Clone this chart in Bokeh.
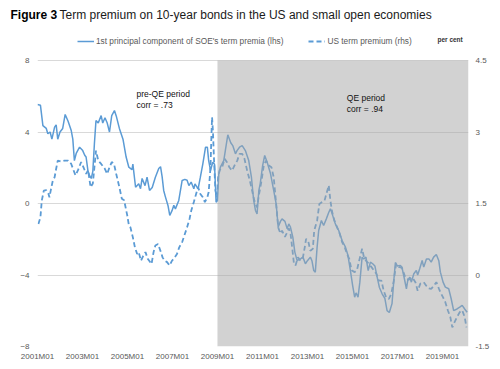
from bokeh.plotting import figure
from bokeh.layouts import column
from bokeh.models import (Range1d, LinearAxis, FixedTicker, BoxAnnotation, Label,
                          Legend, LegendItem, ColumnDataSource)
from bokeh.embed import file_html
from bokeh.resources import INLINE

# ---------------- data (decimal year, value) ----------------
soe_t = [2001.00, 2001.13, 2001.24, 2001.39, 2001.46, 2001.56, 2001.64, 2001.76, 2001.83, 2001.90,
         2002.00, 2002.12, 2002.23, 2002.36, 2002.50, 2002.57, 2002.64, 2002.72, 2002.87, 2003.01,
         2003.10, 2003.16, 2003.24, 2003.31, 2003.39, 2003.46, 2003.53, 2003.60, 2003.70, 2003.83,
         2003.90, 2004.00, 2004.10, 2004.20, 2004.30, 2004.42, 2004.50, 2004.64, 2004.80, 2004.94,
         2005.06, 2005.20, 2005.24, 2005.36, 2005.50, 2005.58, 2005.65, 2005.78, 2005.87, 2005.98,
         2006.10, 2006.24, 2006.39, 2006.47, 2006.54, 2006.61, 2006.68, 2006.80, 2006.88, 2006.98,
         2007.06, 2007.13, 2007.28, 2007.43, 2007.55, 2007.65, 2007.73, 2007.83, 2007.95, 2008.00,
         2008.14, 2008.24, 2008.35, 2008.47, 2008.55, 2008.61, 2008.69, 2008.79, 2008.87, 2008.94,
         2009.00, 2009.06, 2009.13, 2009.28, 2009.35, 2009.46, 2009.59, 2009.68, 2009.80, 2009.87,
         2009.98, 2010.10, 2010.24, 2010.39, 2010.51, 2010.61, 2010.69, 2010.76, 2010.84, 2010.90,
         2011.01, 2011.10, 2011.21, 2011.36, 2011.50, 2011.61, 2011.70, 2011.80, 2011.87, 2012.00,
         2012.10, 2012.17, 2012.24, 2012.35, 2012.44, 2012.54, 2012.69, 2012.80, 2012.91, 2013.00,
         2013.13, 2013.20, 2013.28, 2013.35, 2013.43, 2013.50, 2013.62, 2013.72, 2013.84, 2013.95,
         2014.02, 2014.10, 2014.24, 2014.39, 2014.54, 2014.69, 2014.80, 2014.91, 2015.01, 2015.10,
         2015.16, 2015.25, 2015.33, 2015.43, 2015.50, 2015.60, 2015.70, 2015.80, 2015.90, 2016.00,
         2016.10, 2016.20, 2016.32, 2016.44, 2016.54, 2016.64, 2016.76, 2016.84, 2016.91, 2017.00,
         2017.13, 2017.20, 2017.31, 2017.40, 2017.46, 2017.55, 2017.62, 2017.73, 2017.84, 2017.90,
         2017.99, 2018.10, 2018.17, 2018.29, 2018.40, 2018.50, 2018.61, 2018.73, 2018.84, 2018.91,
         2019.03, 2019.13, 2019.28, 2019.39, 2019.50, 2019.65, 2019.77, 2019.88, 2019.99, 2020.10]
soe_v = [5.54, 5.50, 4.36, 4.20, 3.90, 4.00, 3.60, 4.27, 4.40, 3.60,
         4.00, 4.20, 4.98, 4.60, 4.08, 3.60, 2.40, 2.80, 3.15, 2.96,
         2.70, 2.60, 1.85, 1.57, 1.40, 1.80, 3.36, 4.64, 4.50, 4.92,
         4.50, 4.80, 4.50, 4.00, 4.92, 5.20, 4.90, 4.20, 3.60, 2.60,
         2.03, 1.90, 2.20, 0.91, 1.10, 0.83, 1.40, 1.00, 1.47, 0.73,
         0.90, 1.47, 1.96, 2.06, 1.50, 0.73, 0.40, -0.11, -0.67, -0.40,
         -0.10, -0.30, 0.17, 1.29, 1.35, 1.30, 1.00, 1.20, 0.82, 1.10,
         0.82, 1.47, 2.22, 3.15, 3.15, 2.40, 1.85, 2.31, 2.20, 0.07,
         0.17, 1.66, 2.03, 2.40, 2.96, 3.84, 3.40, 3.24, 2.78, 2.96,
         3.15, 3.24, 2.96, 2.40, 1.47, 0.17, -0.39, -0.58, 0.73, 1.10,
         2.13, 2.69, 2.31, 1.66, 0.73, -0.02, -1.32, -1.00, -0.86, -1.00,
         -1.42, -1.14, -1.30, -1.88, -2.72, -3.19, -3.10, -3.00, -3.37, -3.20,
         -3.00, -3.20, -3.75, -3.84, -2.44, -1.51, -0.95, -1.23, -0.86, -0.49,
         -0.30, -0.58, -1.14, -1.51, -2.07, -2.44, -2.90, -3.75, -4.59, -5.24,
         -5.00, -5.24, -4.40, -3.00, -3.10, -3.00, -3.75, -3.28, -3.37, -3.50,
         -4.12, -4.70, -5.05, -5.30, -5.99, -6.10, -5.60, -4.30, -3.30, -3.50,
         -3.47, -3.56, -4.21, -4.77, -4.30, -4.12, -4.40, -3.93, -3.75, -4.00,
         -3.65, -3.19, -3.56, -3.10, -3.10, -3.28, -3.00, -2.85, -3.20, -3.84,
         -4.40, -4.68, -4.77, -5.33, -5.99, -5.90, -5.80, -5.70, -5.90, -6.08]

us_t = [2001.04, 2001.13, 2001.19, 2001.28, 2001.39, 2001.49, 2001.53, 2001.60, 2001.68, 2001.76,
        2001.83, 2001.90, 2002.05, 2002.20, 2002.36, 2002.50, 2002.60, 2002.69, 2002.80, 2002.94,
        2003.06, 2003.16, 2003.25, 2003.36, 2003.46, 2003.53, 2003.60, 2003.70, 2003.83, 2003.98,
        2004.10, 2004.20, 2004.30, 2004.40, 2004.50, 2004.64, 2004.75, 2004.85, 2004.99, 2005.06,
        2005.13, 2005.24, 2005.33, 2005.43, 2005.50, 2005.60, 2005.70, 2005.80, 2005.90, 2006.07,
        2006.16, 2006.24, 2006.36, 2006.47, 2006.56, 2006.65, 2006.76, 2006.87, 2006.98, 2007.10,
        2007.20, 2007.30, 2007.43, 2007.55, 2007.65, 2007.76, 2007.84, 2007.95, 2008.05, 2008.14,
        2008.24, 2008.35, 2008.44, 2008.55, 2008.61, 2008.69, 2008.73, 2008.76, 2008.80, 2008.84,
        2008.91, 2008.98, 2009.03, 2009.10, 2009.21, 2009.32, 2009.43, 2009.53, 2009.65, 2009.76,
        2009.88, 2009.98, 2010.10, 2010.20, 2010.32, 2010.44, 2010.54, 2010.64, 2010.76, 2010.84,
        2010.96, 2011.06, 2011.16, 2011.27, 2011.40, 2011.50, 2011.61, 2011.70, 2011.80, 2011.87,
        2012.00, 2012.07, 2012.17, 2012.24, 2012.32, 2012.40, 2012.47, 2012.58, 2012.69, 2012.80,
        2012.88, 2012.94, 2013.04, 2013.13, 2013.24, 2013.30, 2013.43, 2013.53, 2013.65, 2013.76,
        2013.84, 2013.95, 2014.02, 2014.10, 2014.20, 2014.32, 2014.44, 2014.54, 2014.66, 2014.76,
        2014.86, 2014.96, 2015.10, 2015.20, 2015.30, 2015.43, 2015.50, 2015.60, 2015.72, 2015.84,
        2015.95, 2016.06, 2016.17, 2016.29, 2016.39, 2016.50, 2016.62, 2016.73, 2016.84, 2016.94,
        2017.06, 2017.20, 2017.35, 2017.50, 2017.66, 2017.80, 2017.90, 2018.02, 2018.17, 2018.29,
        2018.40, 2018.50, 2018.61, 2018.73, 2018.84, 2018.91, 2019.03, 2019.13, 2019.24, 2019.35,
        2019.44, 2019.53, 2019.65, 2019.77, 2019.88, 2019.99, 2020.07]
us_v = [1.07, 1.21, 1.56, 1.77, 1.78, 1.70, 1.63, 1.80, 1.98, 2.05,
        2.23, 2.40, 2.38, 2.40, 2.40, 2.33, 2.20, 2.09, 2.20, 2.37,
        2.24, 2.12, 2.20, 1.84, 1.92, 2.26, 2.61, 2.40, 2.33, 2.24,
        2.12, 2.26, 2.37, 2.33, 2.12, 1.84, 1.60, 1.57, 1.25, 1.05,
        1.00, 0.79, 0.58, 0.44, 0.48, 0.30, 0.40, 0.48, 0.34, 0.23,
        0.48, 0.62, 0.65, 0.50, 0.37, 0.30, 0.27, 0.20, 0.30, 0.37,
        0.44, 0.58, 0.69, 0.86, 1.00, 1.18, 1.36, 1.53, 1.70, 1.84,
        1.70, 1.63, 1.53, 1.63, 1.74, 2.26, 2.90, 3.31, 3.00, 2.50,
        1.77, 1.63, 2.05, 2.20, 2.26, 2.44, 2.36, 2.26, 2.19, 2.30,
        2.40, 2.54, 2.54, 2.44, 2.19, 1.98, 1.77, 1.56, 1.42, 1.67,
        1.98, 2.30, 2.40, 2.30, 2.26, 2.05, 1.49, 1.00, 0.87, 0.93,
        0.80, 0.87, 0.98, 0.90, 0.58, 0.24, 0.20, 0.37, 0.30, 0.37,
        0.58, 0.76, 0.70, 0.51, 0.55, 0.93, 1.14, 1.49, 1.53, 1.56,
        1.70, 1.88, 1.56, 1.32, 1.14, 1.00, 0.86, 0.69, 0.58, 0.44,
        0.34, 0.10, 0.06, 0.10, 0.30, 0.55, 0.40, 0.30, 0.24, 0.17,
        0.10, 0.03, -0.12, -0.12, -0.33, -0.47, -0.50, -0.39, -0.12, 0.23,
        0.17, 0.15, -0.05, -0.10, -0.05, -0.15, -0.33, -0.18, -0.15, -0.23,
        -0.28, -0.29, -0.23, -0.15, -0.28, -0.36, -0.47, -0.57, -0.74, -0.88,
        -1.10, -1.00, -0.88, -0.78, -0.74, -0.88, -1.10]

x_tick_years = [2001, 2003, 2005, 2007, 2009, 2011, 2013, 2015, 2017, 2019]
x_tick_labels = ["2001M01", "2003M01", "2005M01", "2007M01", "2009M01",
                 "2011M01", "2013M01", "2015M01", "2017M01", "2019M01"]
lhs_ticks = [-8, -4, 0, 4, 8]
rhs_ticks = [-1.5, 0, 1.5, 3, 4.5]
qe_start = 2009.0

title_bold = "Figure 3"
title_rest = "Term premium on 10-year bonds in the US and small open economies"
soe_label = "1st principal component of SOE's term premia (lhs)"
us_label = "US term premium (rhs)"

FONT = "Liberation Sans"
BLUE = "#5b9bd5"
PAGE_W = 500
TITLE_H = 28
MAIN_H = 341

# ---------------- title strip (its own small figure, pixel coordinates) ----------------
t = figure(width=PAGE_W, height=TITLE_H, output_backend="svg", toolbar_location=None,
           x_range=Range1d(0, PAGE_W), y_range=Range1d(TITLE_H, 0),
           x_axis_type=None, y_axis_type=None,
           min_border_left=0, min_border_right=0, min_border_top=0, min_border_bottom=0)
if "frame_align" in t.properties():
    t.frame_align = False
t.outline_line_color = None
t.grid.visible = False
t.add_layout(Label(x=10, y=14, text=title_bold, text_font=FONT, text_font_style="bold",
                   text_font_size="12px", text_color="#000000", text_baseline="middle"))
t.add_layout(Label(x=59, y=14, text=title_rest, text_font=FONT, text_font_size="12px",
                   text_color="#1a1a1a", text_baseline="middle"))

# ---------------- main chart ----------------
# frame: x from page 37 to 468; y=8 at page 60, y=-8 at page 346; frame top at page 28
Y_TOP = 8 + (60 - TITLE_H) / 17.875
p = figure(width=PAGE_W, height=MAIN_H, output_backend="svg", toolbar_location=None,
           x_range=Range1d(2001.0, 2020.16), y_range=Range1d(-8, Y_TOP),
           min_border_left=37, min_border_right=32, min_border_top=0, min_border_bottom=23)
if "frame_align" in p.properties():
    p.frame_align = False
p.outline_line_color = None
p.extra_y_ranges = {"rhs": Range1d(-1.5, 1.5 + Y_TOP * 3 / 8)}

def style_axis(ax):
    ax.axis_line_color = None
    ax.major_tick_line_color = None
    ax.minor_tick_line_color = None
    ax.major_tick_out = 0
    ax.major_tick_in = 0
    ax.minor_tick_out = 0
    ax.major_label_text_color = "#595959"
    ax.major_label_text_font = FONT
    ax.major_label_text_font_size = "8px"

p.xaxis.ticker = FixedTicker(ticks=x_tick_years)
p.xaxis.major_label_overrides = {y: l for y, l in zip(x_tick_years, x_tick_labels)}
p.xaxis.major_label_standoff = 5
style_axis(p.xaxis[0])

p.yaxis.ticker = FixedTicker(ticks=lhs_ticks)
p.yaxis.major_label_standoff = 8
style_axis(p.yaxis[0])

rax = LinearAxis(y_range_name="rhs", ticker=FixedTicker(ticks=rhs_ticks))
rax.major_label_standoff = 7
rax.major_label_overrides = {4.5: "4.5", 3: "3", 1.5: "1.5", 0: "0", -1.5: "-1.5"}
style_axis(rax)
p.add_layout(rax, "right")

p.xgrid.grid_line_color = None
p.ygrid.ticker = FixedTicker(ticks=lhs_ticks)
p.ygrid.grid_line_color = "#d9d9d9"
p.ygrid.grid_line_width = 1

src_soe = ColumnDataSource(dict(t=soe_t, v=soe_v))
src_us = ColumnDataSource(dict(t=us_t, v=us_v))
r_us = p.line("t", "v", source=src_us, y_range_name="rhs", line_color=BLUE,
              line_width=1.8, line_dash="5 3")
r_soe = p.line("t", "v", source=src_soe, line_color=BLUE, line_width=1.5)

# QE shading: translucent gray overlay over the lines
p.add_layout(BoxAnnotation(left=qe_start, top=8, fill_color="#a6a6a6", fill_alpha=0.5,
                           line_color=None, level="annotation"))

for txt, x, y in [("pre-QE period", 2005.4, 6.1), ("corr = .73", 2005.4, 5.5),
                  ("QE period", 2014.75, 5.9), ("corr = .94", 2014.75, 5.3)]:
    p.add_layout(Label(x=x, y=y, text=txt, text_font=FONT, text_font_size="8.5px",
                       text_color="#111111", text_baseline="middle", text_align="left"))

p.add_layout(Label(x=2018.78, y=9.2, text="per cent", text_font=FONT,
                   text_font_style="bold", text_font_size="6.5px", text_color="#333333",
                   text_baseline="middle"))

legend = Legend(items=[LegendItem(label=soe_label, renderers=[r_soe]),
                       LegendItem(label=us_label, renderers=[r_us])],
                orientation="horizontal", location=(40, 300),
                label_text_font=FONT, label_text_font_size="8.3px", label_text_color="#595959",
                glyph_width=17, glyph_height=10, label_height=10, label_standoff=2,
                spacing=25, padding=0, margin=0, border_line_color=None,
                background_fill_alpha=0)
p.add_layout(legend, "center")

layout = column(t, p, spacing=0)
open("out.html", "w").write(file_html(layout, INLINE))
